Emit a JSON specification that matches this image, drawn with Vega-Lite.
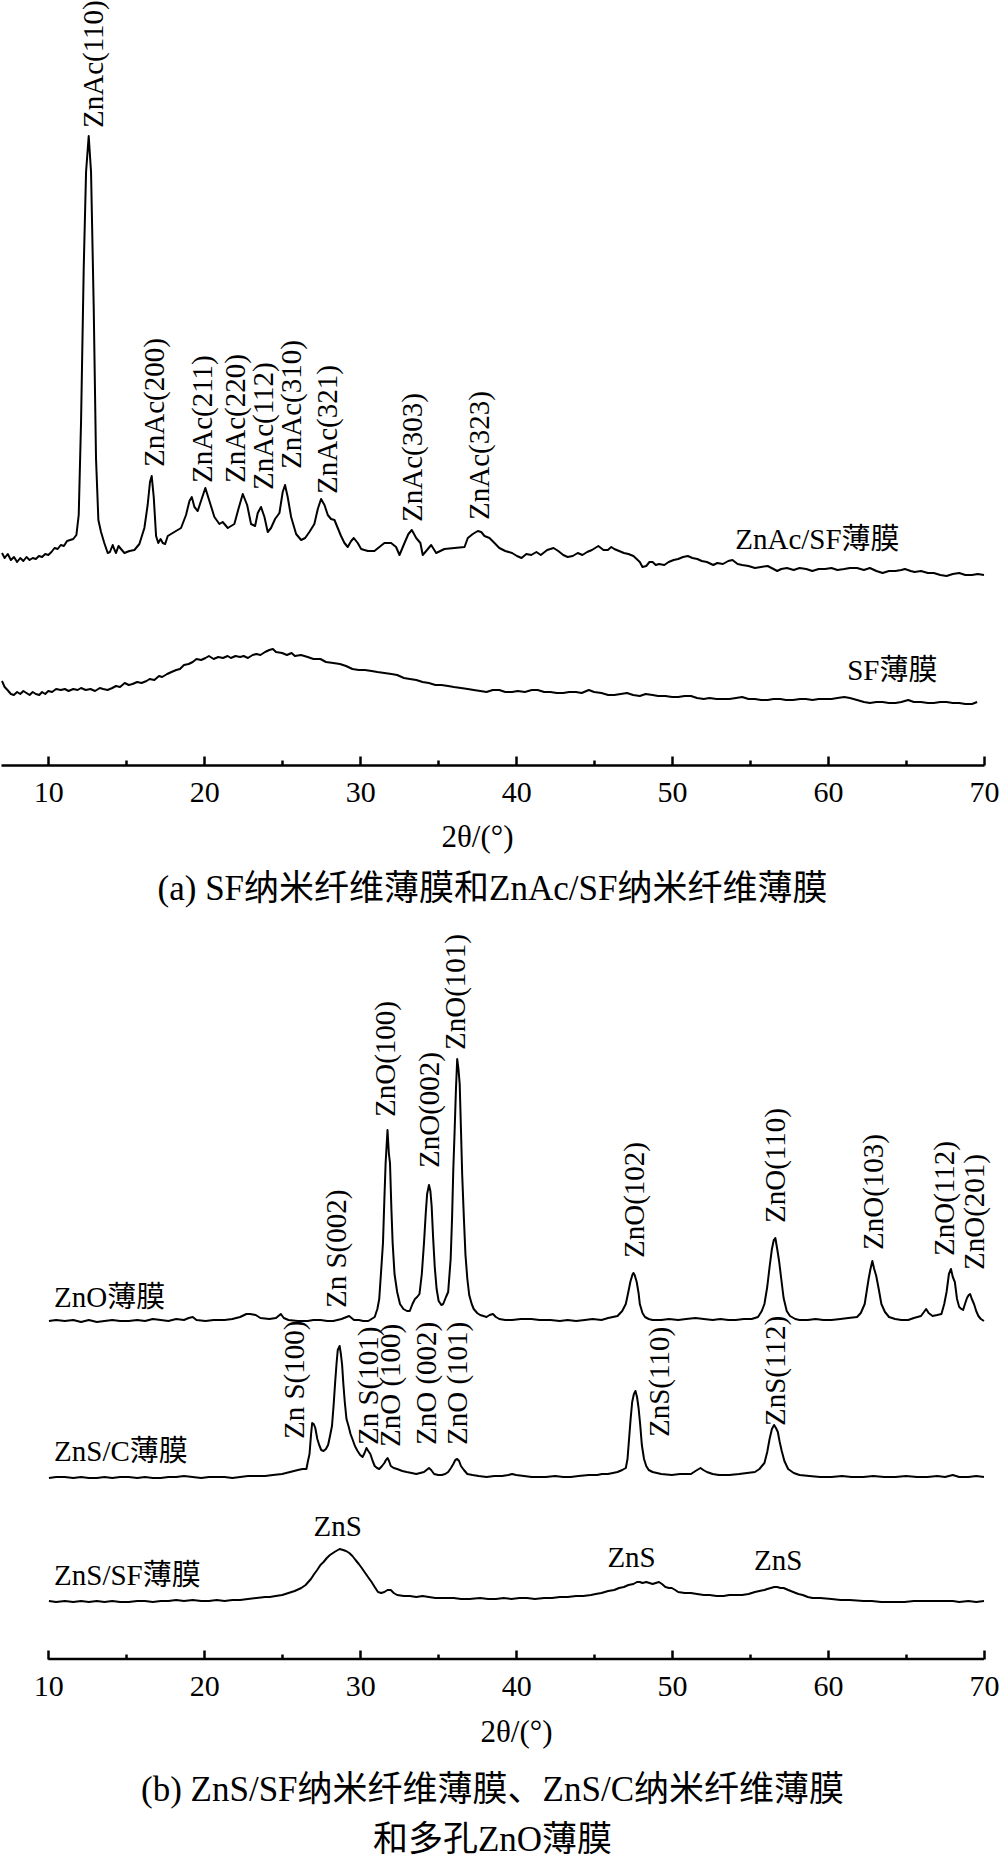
{
  "$schema": "https://vega.github.io/schema/vega-lite/v6.json",
  "padding": 0,
  "background": "white",
  "bounds": "flush",
  "spacing": 150,
  "config": {
    "view": {"stroke": null},
    "font": "Liberation Serif, Noto Sans CJK SC",
    "text": {"color": "black", "font": "Liberation Serif, Noto Sans CJK SC"}
  },
  "datasets": {
    "znac_sf": [
      {"theta":7.03,"intensity":212},{"theta":7.2,"intensity":207},{"theta":7.4,"intensity":211},{"theta":7.6,"intensity":205},{"theta":7.8,"intensity":208},{"theta":8.0,"intensity":203},{"theta":8.2,"intensity":207},{"theta":8.4,"intensity":204},{"theta":8.6,"intensity":208},{"theta":8.8,"intensity":205},{"theta":9.0,"intensity":207},{"theta":9.2,"intensity":206},{"theta":9.4,"intensity":209},{"theta":9.6,"intensity":208},{"theta":9.8,"intensity":211},{"theta":10.0,"intensity":210},{"theta":10.2,"intensity":213},{"theta":10.4,"intensity":217},{"theta":10.6,"intensity":216},{"theta":10.8,"intensity":220},{"theta":11.0,"intensity":219},{"theta":11.2,"intensity":224},{"theta":11.4,"intensity":225},{"theta":11.6,"intensity":226},{"theta":11.8,"intensity":230},{"theta":11.95,"intensity":250},{"theta":12.1,"intensity":344},{"theta":12.27,"intensity":497},{"theta":12.42,"intensity":593},{"theta":12.59,"intensity":629},{"theta":12.74,"intensity":593},{"theta":12.91,"intensity":459},{"theta":13.06,"intensity":306},{"theta":13.21,"intensity":245},{"theta":13.38,"intensity":233},{"theta":13.59,"intensity":222},{"theta":13.81,"intensity":212},{"theta":13.95,"intensity":213},{"theta":14.13,"intensity":220},{"theta":14.25,"intensity":215},{"theta":14.34,"intensity":212},{"theta":14.5,"intensity":219},{"theta":14.66,"intensity":216},{"theta":14.88,"intensity":212},{"theta":15.2,"intensity":214},{"theta":15.52,"intensity":215},{"theta":15.84,"intensity":221},{"theta":16.16,"intensity":237},{"theta":16.37,"intensity":260},{"theta":16.52,"intensity":283},{"theta":16.63,"intensity":289},{"theta":16.76,"intensity":268},{"theta":16.91,"intensity":229},{"theta":17.05,"intensity":222},{"theta":17.2,"intensity":226},{"theta":17.34,"intensity":222},{"theta":17.49,"intensity":221},{"theta":17.66,"intensity":229},{"theta":18.08,"intensity":233},{"theta":18.51,"intensity":237},{"theta":18.83,"intensity":250},{"theta":19.05,"intensity":264},{"theta":19.2,"intensity":268},{"theta":19.37,"intensity":258},{"theta":19.58,"intensity":254},{"theta":19.79,"intensity":264},{"theta":20.07,"intensity":277},{"theta":20.33,"intensity":264},{"theta":20.65,"intensity":248},{"theta":20.97,"intensity":241},{"theta":21.18,"intensity":243},{"theta":21.51,"intensity":237},{"theta":21.93,"intensity":241},{"theta":22.19,"intensity":256},{"theta":22.47,"intensity":271},{"theta":22.75,"intensity":260},{"theta":23.0,"intensity":241},{"theta":23.26,"intensity":239},{"theta":23.43,"intensity":252},{"theta":23.64,"intensity":258},{"theta":23.86,"intensity":248},{"theta":24.07,"intensity":233},{"theta":24.28,"intensity":237},{"theta":24.54,"intensity":246},{"theta":24.82,"intensity":252},{"theta":25.03,"intensity":273},{"theta":25.18,"intensity":280},{"theta":25.35,"intensity":268},{"theta":25.57,"intensity":248},{"theta":25.89,"intensity":231},{"theta":26.21,"intensity":225},{"theta":26.47,"intensity":227},{"theta":26.74,"intensity":233},{"theta":27.06,"intensity":241},{"theta":27.28,"intensity":256},{"theta":27.49,"intensity":266},{"theta":27.71,"intensity":260},{"theta":27.92,"intensity":250},{"theta":28.13,"intensity":246},{"theta":28.35,"intensity":245},{"theta":28.56,"intensity":237},{"theta":28.77,"intensity":229},{"theta":28.99,"intensity":222},{"theta":29.2,"intensity":218},{"theta":29.42,"intensity":224},{"theta":29.59,"intensity":227},{"theta":29.84,"intensity":222},{"theta":30.06,"intensity":216},{"theta":30.49,"intensity":214},{"theta":30.91,"intensity":214},{"theta":31.23,"intensity":218},{"theta":31.55,"intensity":222},{"theta":31.98,"intensity":222},{"theta":32.3,"intensity":218},{"theta":32.52,"intensity":210},{"theta":32.84,"intensity":222},{"theta":33.09,"intensity":231},{"theta":33.31,"intensity":235},{"theta":33.59,"intensity":227},{"theta":33.86,"intensity":222},{"theta":34.01,"intensity":210},{"theta":34.23,"intensity":214},{"theta":34.55,"intensity":220},{"theta":34.87,"intensity":212},{"theta":35.4,"intensity":216},{"theta":36.04,"intensity":217},{"theta":36.69,"intensity":218},{"theta":36.9,"intensity":227},{"theta":37.22,"intensity":231},{"theta":37.54,"intensity":234},{"theta":37.76,"intensity":233},{"theta":37.97,"intensity":229},{"theta":38.29,"intensity":227},{"theta":38.61,"intensity":222},{"theta":38.92,"intensity":217},{"theta":39.3,"intensity":214},{"theta":39.74,"intensity":212},{"theta":40.05,"intensity":209},{"theta":40.35,"intensity":207},{"theta":40.65,"intensity":211},{"theta":40.97,"intensity":210},{"theta":41.3,"intensity":213},{"theta":41.58,"intensity":210},{"theta":41.99,"intensity":215},{"theta":42.4,"intensity":217},{"theta":42.7,"intensity":214},{"theta":43.02,"intensity":210},{"theta":43.3,"intensity":208},{"theta":43.63,"intensity":209},{"theta":43.95,"intensity":212},{"theta":44.25,"intensity":210},{"theta":44.55,"intensity":213},{"theta":44.86,"intensity":215},{"theta":45.27,"intensity":219},{"theta":45.6,"intensity":215},{"theta":45.88,"intensity":215},{"theta":46.1,"intensity":218},{"theta":46.29,"intensity":216},{"theta":46.6,"intensity":214},{"theta":46.91,"intensity":212},{"theta":47.2,"intensity":211},{"theta":47.52,"intensity":209},{"theta":47.93,"intensity":203},{"theta":48.1,"intensity":198},{"theta":48.34,"intensity":199},{"theta":48.55,"intensity":203},{"theta":48.75,"intensity":203},{"theta":48.95,"intensity":200},{"theta":49.16,"intensity":201},{"theta":49.5,"intensity":200},{"theta":49.78,"intensity":203},{"theta":50.1,"intensity":205},{"theta":50.39,"intensity":206},{"theta":50.7,"intensity":208},{"theta":51.01,"intensity":209},{"theta":51.3,"intensity":207},{"theta":51.62,"intensity":206},{"theta":51.9,"intensity":204},{"theta":52.23,"intensity":203},{"theta":52.64,"intensity":200},{"theta":52.9,"intensity":202},{"theta":53.26,"intensity":201},{"theta":53.6,"intensity":204},{"theta":53.87,"intensity":205},{"theta":54.2,"intensity":201},{"theta":54.49,"intensity":200},{"theta":54.9,"intensity":199},{"theta":55.31,"intensity":197},{"theta":55.7,"intensity":198},{"theta":56.13,"intensity":199},{"theta":56.5,"intensity":196},{"theta":56.74,"intensity":194},{"theta":57.0,"intensity":196},{"theta":57.36,"intensity":197},{"theta":57.8,"intensity":195},{"theta":58.17,"intensity":197},{"theta":58.6,"intensity":196},{"theta":58.99,"intensity":194},{"theta":59.4,"intensity":196},{"theta":59.81,"intensity":196},{"theta":60.22,"intensity":197},{"theta":60.6,"intensity":195},{"theta":61.04,"intensity":196},{"theta":61.4,"intensity":197},{"theta":61.86,"intensity":197},{"theta":62.3,"intensity":195},{"theta":62.68,"intensity":197},{"theta":63.1,"intensity":194},{"theta":63.5,"intensity":192},{"theta":63.9,"intensity":194},{"theta":64.32,"intensity":194},{"theta":64.7,"intensity":195},{"theta":64.93,"intensity":196},{"theta":65.3,"intensity":194},{"theta":65.55,"intensity":193},{"theta":65.96,"intensity":194},{"theta":66.4,"intensity":192},{"theta":66.78,"intensity":192},{"theta":67.2,"intensity":190},{"theta":67.6,"intensity":189},{"theta":68.0,"intensity":191},{"theta":68.41,"intensity":192},{"theta":68.8,"intensity":190},{"theta":69.23,"intensity":190},{"theta":69.6,"intensity":191},{"theta":70.0,"intensity":190}
    ],
    "sf": [
      {"theta":7.03,"intensity":84},{"theta":7.2,"intensity":78},{"theta":7.38,"intensity":75},{"theta":7.6,"intensity":71},{"theta":7.79,"intensity":70},{"theta":8.0,"intensity":73},{"theta":8.2,"intensity":71},{"theta":8.4,"intensity":74},{"theta":8.6,"intensity":72},{"theta":8.8,"intensity":70},{"theta":9.0,"intensity":73},{"theta":9.2,"intensity":71},{"theta":9.42,"intensity":70},{"theta":9.6,"intensity":73},{"theta":9.8,"intensity":71},{"theta":10.0,"intensity":74},{"theta":10.24,"intensity":73},{"theta":10.5,"intensity":76},{"theta":10.8,"intensity":75},{"theta":11.06,"intensity":76},{"theta":11.3,"intensity":74},{"theta":11.6,"intensity":76},{"theta":11.88,"intensity":75},{"theta":12.1,"intensity":77},{"theta":12.4,"intensity":75},{"theta":12.7,"intensity":76},{"theta":13.0,"intensity":74},{"theta":13.3,"intensity":77},{"theta":13.52,"intensity":76},{"theta":13.8,"intensity":75},{"theta":14.1,"intensity":77},{"theta":14.34,"intensity":79},{"theta":14.6,"intensity":78},{"theta":14.9,"intensity":82},{"theta":15.16,"intensity":80},{"theta":15.4,"intensity":81},{"theta":15.7,"intensity":83},{"theta":15.98,"intensity":82},{"theta":16.3,"intensity":84},{"theta":16.5,"intensity":86},{"theta":16.8,"intensity":85},{"theta":17.1,"intensity":89},{"theta":17.3,"intensity":88},{"theta":17.62,"intensity":91},{"theta":17.9,"intensity":93},{"theta":18.2,"intensity":95},{"theta":18.44,"intensity":96},{"theta":18.7,"intensity":100},{"theta":19.0,"intensity":101},{"theta":19.26,"intensity":103},{"theta":19.5,"intensity":106},{"theta":19.8,"intensity":105},{"theta":20.08,"intensity":107},{"theta":20.3,"intensity":109},{"theta":20.6,"intensity":106},{"theta":20.9,"intensity":108},{"theta":21.2,"intensity":107},{"theta":21.5,"intensity":109},{"theta":21.71,"intensity":107},{"theta":22.0,"intensity":109},{"theta":22.3,"intensity":108},{"theta":22.53,"intensity":109},{"theta":22.8,"intensity":107},{"theta":23.1,"intensity":110},{"theta":23.35,"intensity":111},{"theta":23.6,"intensity":110},{"theta":23.9,"intensity":113},{"theta":24.17,"intensity":115},{"theta":24.4,"intensity":116},{"theta":24.6,"intensity":113},{"theta":24.99,"intensity":112},{"theta":25.3,"intensity":110},{"theta":25.6,"intensity":112},{"theta":25.81,"intensity":109},{"theta":26.2,"intensity":110},{"theta":26.63,"intensity":108},{"theta":27.0,"intensity":106},{"theta":27.45,"intensity":106},{"theta":27.8,"intensity":103},{"theta":28.27,"intensity":102},{"theta":28.7,"intensity":101},{"theta":29.09,"intensity":99},{"theta":29.5,"intensity":96},{"theta":29.91,"intensity":95},{"theta":30.3,"intensity":95},{"theta":30.73,"intensity":94},{"theta":31.1,"intensity":93},{"theta":31.55,"intensity":92},{"theta":32.0,"intensity":91},{"theta":32.37,"intensity":90},{"theta":32.8,"intensity":87},{"theta":33.18,"intensity":86},{"theta":33.6,"intensity":85},{"theta":34.0,"intensity":83},{"theta":34.4,"intensity":82},{"theta":34.82,"intensity":80},{"theta":35.2,"intensity":80},{"theta":35.64,"intensity":79},{"theta":36.0,"intensity":78},{"theta":36.46,"intensity":77},{"theta":36.9,"intensity":76},{"theta":37.28,"intensity":75},{"theta":37.7,"intensity":74},{"theta":38.1,"intensity":73},{"theta":38.5,"intensity":75},{"theta":38.92,"intensity":75},{"theta":39.3,"intensity":73},{"theta":39.74,"intensity":73},{"theta":40.1,"intensity":74},{"theta":40.56,"intensity":73},{"theta":41.0,"intensity":75},{"theta":41.38,"intensity":75},{"theta":41.8,"intensity":73},{"theta":42.2,"intensity":73},{"theta":42.6,"intensity":72},{"theta":43.02,"intensity":72},{"theta":43.4,"intensity":73},{"theta":43.84,"intensity":73},{"theta":44.2,"intensity":72},{"theta":44.66,"intensity":75},{"theta":45.0,"intensity":73},{"theta":45.47,"intensity":72},{"theta":45.9,"intensity":70},{"theta":46.29,"intensity":70},{"theta":46.7,"intensity":71},{"theta":47.11,"intensity":72},{"theta":47.5,"intensity":70},{"theta":47.93,"intensity":69},{"theta":48.3,"intensity":71},{"theta":48.75,"intensity":70},{"theta":49.1,"intensity":69},{"theta":49.57,"intensity":69},{"theta":50.0,"intensity":68},{"theta":50.39,"intensity":68},{"theta":50.8,"intensity":69},{"theta":51.21,"intensity":69},{"theta":51.6,"intensity":67},{"theta":52.03,"intensity":66},{"theta":52.4,"intensity":67},{"theta":52.85,"intensity":66},{"theta":53.3,"intensity":66},{"theta":53.67,"intensity":66},{"theta":54.1,"intensity":67},{"theta":54.49,"intensity":68},{"theta":54.9,"intensity":66},{"theta":55.31,"intensity":66},{"theta":55.7,"intensity":65},{"theta":56.13,"intensity":65},{"theta":56.5,"intensity":66},{"theta":56.94,"intensity":66},{"theta":57.3,"intensity":65},{"theta":57.76,"intensity":65},{"theta":58.2,"intensity":66},{"theta":58.58,"intensity":66},{"theta":59.0,"intensity":65},{"theta":59.4,"intensity":66},{"theta":59.8,"intensity":66},{"theta":60.22,"intensity":66},{"theta":60.6,"intensity":67},{"theta":61.04,"intensity":68},{"theta":61.4,"intensity":67},{"theta":61.86,"intensity":65},{"theta":62.3,"intensity":63},{"theta":62.68,"intensity":62},{"theta":63.1,"intensity":63},{"theta":63.5,"intensity":63},{"theta":63.9,"intensity":62},{"theta":64.32,"intensity":62},{"theta":64.7,"intensity":63},{"theta":65.14,"intensity":65},{"theta":65.5,"intensity":63},{"theta":65.96,"intensity":63},{"theta":66.4,"intensity":62},{"theta":66.78,"intensity":62},{"theta":67.2,"intensity":63},{"theta":67.6,"intensity":63},{"theta":68.0,"intensity":62},{"theta":68.41,"intensity":62},{"theta":68.8,"intensity":61},{"theta":69.23,"intensity":61},{"theta":69.56,"intensity":63}
    ],
    "a_peaks": [
      {"label":"ZnAc(110)","theta":12.91,"intensity":637},
      {"label":"ZnAc(200)","theta":16.84,"intensity":298},
      {"label":"ZnAc(211)","theta":19.92,"intensity":282},
      {"label":"ZnAc(220)","theta":22.05,"intensity":282},
      {"label":"ZnAc(112)","theta":23.84,"intensity":275},
      {"label":"ZnAc(310)","theta":25.62,"intensity":296},
      {"label":"ZnAc(321)","theta":27.96,"intensity":271},
      {"label":"ZnAc(303)","theta":33.4,"intensity":243},
      {"label":"ZnAc(323)","theta":37.69,"intensity":245}
    ],
    "a_names": [
      {"label":"ZnAc/SF薄膜","theta":54.05,"intensity":225},
      {"label":"SF薄膜","theta":61.23,"intensity":94}
    ],
    "zno": [
      {"theta":10.04,"intensity":338},{"theta":10.5,"intensity":339},{"theta":11.06,"intensity":338},{"theta":11.6,"intensity":339},{"theta":12.1,"intensity":337},{"theta":12.6,"intensity":339},{"theta":13.11,"intensity":337},{"theta":13.6,"intensity":338},{"theta":14.1,"intensity":339},{"theta":14.6,"intensity":338},{"theta":15.16,"intensity":338},{"theta":15.7,"intensity":339},{"theta":16.2,"intensity":338},{"theta":16.7,"intensity":340},{"theta":17.21,"intensity":339},{"theta":17.7,"intensity":338},{"theta":18.2,"intensity":340},{"theta":18.7,"intensity":339},{"theta":19.0,"intensity":341},{"theta":19.26,"intensity":342},{"theta":19.5,"intensity":339},{"theta":20.08,"intensity":338},{"theta":20.6,"intensity":339},{"theta":21.3,"intensity":339},{"theta":21.8,"intensity":340},{"theta":22.3,"intensity":342},{"theta":22.7,"intensity":345},{"theta":22.94,"intensity":345},{"theta":23.3,"intensity":344},{"theta":23.6,"intensity":341},{"theta":24.17,"intensity":340},{"theta":24.6,"intensity":341},{"theta":24.91,"intensity":345},{"theta":25.1,"intensity":341},{"theta":25.4,"intensity":339},{"theta":26.0,"intensity":338},{"theta":26.63,"intensity":338},{"theta":27.0,"intensity":339},{"theta":27.45,"intensity":339},{"theta":27.9,"intensity":338},{"theta":28.27,"intensity":338},{"theta":28.8,"intensity":340},{"theta":29.29,"intensity":343},{"theta":29.6,"intensity":339},{"theta":29.91,"intensity":339},{"theta":30.2,"intensity":338},{"theta":30.52,"intensity":338},{"theta":30.93,"intensity":342},{"theta":31.1,"intensity":350},{"theta":31.22,"intensity":360},{"theta":31.35,"intensity":390},{"theta":31.46,"intensity":416},{"theta":31.55,"intensity":460},{"theta":31.63,"intensity":496},{"theta":31.75,"intensity":529},{"theta":31.84,"intensity":505},{"theta":31.91,"intensity":496},{"theta":32.0,"intensity":450},{"theta":32.08,"intensity":416},{"theta":32.2,"intensity":385},{"theta":32.37,"intensity":367},{"theta":32.55,"intensity":355},{"theta":32.77,"intensity":350},{"theta":33.0,"intensity":348},{"theta":33.18,"intensity":348},{"theta":33.35,"intensity":355},{"theta":33.51,"intensity":360},{"theta":33.65,"intensity":362},{"theta":33.8,"intensity":365},{"theta":33.95,"intensity":385},{"theta":34.09,"intensity":416},{"theta":34.2,"intensity":445},{"theta":34.29,"intensity":465},{"theta":34.41,"intensity":474},{"theta":34.5,"intensity":468},{"theta":34.58,"intensity":453},{"theta":34.68,"intensity":420},{"theta":34.78,"intensity":392},{"theta":34.9,"intensity":370},{"theta":35.03,"intensity":358},{"theta":35.2,"intensity":354},{"theta":35.32,"intensity":355},{"theta":35.5,"intensity":362},{"theta":35.64,"intensity":367},{"theta":35.8,"intensity":400},{"theta":35.89,"intensity":441},{"theta":35.97,"intensity":490},{"theta":36.05,"intensity":526},{"theta":36.14,"intensity":570},{"theta":36.22,"intensity":600},{"theta":36.3,"intensity":590},{"theta":36.38,"intensity":575},{"theta":36.46,"intensity":530},{"theta":36.54,"intensity":484},{"theta":36.65,"intensity":440},{"theta":36.75,"intensity":404},{"theta":36.87,"intensity":380},{"theta":36.99,"intensity":364},{"theta":37.15,"intensity":355},{"theta":37.28,"intensity":350},{"theta":37.5,"intensity":346},{"theta":37.69,"intensity":344},{"theta":37.9,"intensity":343},{"theta":38.1,"intensity":342},{"theta":38.3,"intensity":344},{"theta":38.51,"intensity":345},{"theta":38.7,"intensity":342},{"theta":38.92,"intensity":340},{"theta":39.3,"intensity":339},{"theta":39.74,"intensity":339},{"theta":40.3,"intensity":340},{"theta":40.97,"intensity":340},{"theta":41.5,"intensity":339},{"theta":42.2,"intensity":339},{"theta":42.8,"intensity":338},{"theta":43.3,"intensity":339},{"theta":43.84,"intensity":338},{"theta":44.4,"intensity":339},{"theta":44.9,"intensity":340},{"theta":45.47,"intensity":339},{"theta":45.9,"intensity":341},{"theta":46.2,"intensity":342},{"theta":46.5,"intensity":343},{"theta":46.8,"intensity":348},{"theta":47.03,"intensity":355},{"theta":47.18,"intensity":366},{"theta":47.32,"intensity":377},{"theta":47.45,"intensity":384},{"theta":47.52,"intensity":386},{"theta":47.6,"intensity":384},{"theta":47.73,"intensity":377},{"theta":47.85,"intensity":366},{"theta":47.93,"intensity":355},{"theta":48.1,"intensity":346},{"theta":48.26,"intensity":342},{"theta":48.5,"intensity":340},{"theta":48.75,"intensity":339},{"theta":49.3,"intensity":339},{"theta":49.8,"intensity":340},{"theta":50.39,"intensity":339},{"theta":50.9,"intensity":340},{"theta":51.5,"intensity":341},{"theta":52.03,"intensity":340},{"theta":52.6,"intensity":339},{"theta":53.1,"intensity":340},{"theta":53.6,"intensity":339},{"theta":54.08,"intensity":339},{"theta":54.6,"intensity":340},{"theta":55.1,"intensity":340},{"theta":55.51,"intensity":342},{"theta":55.75,"intensity":348},{"theta":55.92,"intensity":355},{"theta":56.1,"intensity":372},{"theta":56.25,"intensity":392},{"theta":56.4,"intensity":410},{"theta":56.52,"intensity":419},{"theta":56.62,"intensity":421},{"theta":56.74,"intensity":410},{"theta":56.86,"intensity":398},{"theta":57.0,"intensity":380},{"theta":57.15,"intensity":361},{"theta":57.35,"intensity":348},{"theta":57.56,"intensity":343},{"theta":57.9,"intensity":340},{"theta":58.17,"intensity":339},{"theta":58.7,"intensity":339},{"theta":59.2,"intensity":340},{"theta":59.7,"intensity":339},{"theta":60.22,"intensity":339},{"theta":60.8,"intensity":340},{"theta":61.3,"intensity":341},{"theta":61.86,"intensity":342},{"theta":62.1,"intensity":346},{"theta":62.35,"intensity":355},{"theta":62.5,"intensity":370},{"theta":62.6,"intensity":380},{"theta":62.72,"intensity":390},{"theta":62.84,"intensity":398},{"theta":62.96,"intensity":390},{"theta":63.09,"intensity":383},{"theta":63.25,"intensity":370},{"theta":63.42,"intensity":355},{"theta":63.65,"intensity":347},{"theta":63.91,"intensity":342},{"theta":64.3,"intensity":340},{"theta":64.7,"intensity":339},{"theta":65.14,"intensity":339},{"theta":65.5,"intensity":341},{"theta":65.96,"intensity":343},{"theta":66.15,"intensity":347},{"theta":66.29,"intensity":350},{"theta":66.45,"intensity":346},{"theta":66.7,"intensity":343},{"theta":67.0,"intensity":344},{"theta":67.27,"intensity":345},{"theta":67.45,"intensity":355},{"theta":67.6,"intensity":367},{"theta":67.75,"intensity":385},{"theta":67.88,"intensity":390},{"theta":68.0,"intensity":382},{"theta":68.13,"intensity":377},{"theta":68.27,"intensity":360},{"theta":68.41,"intensity":352},{"theta":68.55,"intensity":350},{"theta":68.66,"intensity":349},{"theta":68.8,"intensity":356},{"theta":68.91,"intensity":361},{"theta":69.02,"intensity":364},{"theta":69.11,"intensity":365},{"theta":69.22,"intensity":360},{"theta":69.36,"intensity":355},{"theta":69.5,"intensity":348},{"theta":69.64,"intensity":343},{"theta":69.8,"intensity":340},{"theta":70.0,"intensity":338}
    ],
    "zns_c": [
      {"theta":10.04,"intensity":181},{"theta":10.5,"intensity":182},{"theta":11.06,"intensity":182},{"theta":11.6,"intensity":181},{"theta":12.1,"intensity":182},{"theta":12.6,"intensity":181},{"theta":13.11,"intensity":181},{"theta":13.6,"intensity":182},{"theta":14.1,"intensity":181},{"theta":14.6,"intensity":182},{"theta":15.16,"intensity":182},{"theta":15.7,"intensity":181},{"theta":16.2,"intensity":182},{"theta":16.7,"intensity":181},{"theta":17.21,"intensity":181},{"theta":17.7,"intensity":182},{"theta":18.2,"intensity":182},{"theta":18.7,"intensity":183},{"theta":19.26,"intensity":182},{"theta":19.8,"intensity":181},{"theta":20.3,"intensity":182},{"theta":20.8,"intensity":182},{"theta":21.3,"intensity":182},{"theta":21.8,"intensity":181},{"theta":22.3,"intensity":182},{"theta":22.8,"intensity":183},{"theta":23.35,"intensity":183},{"theta":23.9,"intensity":183},{"theta":24.4,"intensity":184},{"theta":24.99,"intensity":185},{"theta":25.5,"intensity":187},{"theta":26.01,"intensity":189},{"theta":26.3,"intensity":190},{"theta":26.55,"intensity":190},{"theta":26.65,"intensity":198},{"theta":26.75,"intensity":205},{"theta":26.85,"intensity":225},{"theta":26.92,"intensity":236},{"theta":27.02,"intensity":235},{"theta":27.12,"intensity":231},{"theta":27.25,"intensity":220},{"theta":27.37,"intensity":214},{"theta":27.5,"intensity":209},{"theta":27.65,"intensity":208},{"theta":27.8,"intensity":210},{"theta":27.94,"intensity":214},{"theta":28.05,"intensity":222},{"theta":28.19,"intensity":233},{"theta":28.3,"intensity":255},{"theta":28.39,"intensity":276},{"theta":28.48,"intensity":295},{"theta":28.56,"intensity":309},{"theta":28.68,"intensity":313},{"theta":28.76,"intensity":305},{"theta":28.84,"intensity":294},{"theta":28.92,"intensity":275},{"theta":29.01,"intensity":257},{"theta":29.12,"intensity":240},{"theta":29.25,"intensity":233},{"theta":29.38,"intensity":225},{"theta":29.5,"intensity":220},{"theta":29.66,"intensity":213},{"theta":29.83,"intensity":208},{"theta":30.0,"intensity":204},{"theta":30.15,"intensity":202},{"theta":30.28,"intensity":206},{"theta":30.4,"intensity":211},{"theta":30.52,"intensity":208},{"theta":30.65,"intensity":205},{"theta":30.8,"intensity":198},{"theta":30.93,"intensity":193},{"theta":31.08,"intensity":191},{"theta":31.22,"intensity":190},{"theta":31.4,"intensity":193},{"theta":31.55,"intensity":196},{"theta":31.65,"intensity":199},{"theta":31.75,"intensity":201},{"theta":31.85,"intensity":198},{"theta":31.96,"intensity":193},{"theta":32.15,"intensity":191},{"theta":32.37,"intensity":190},{"theta":32.7,"intensity":188},{"theta":32.98,"intensity":187},{"theta":33.3,"intensity":186},{"theta":33.59,"intensity":185},{"theta":33.85,"intensity":186},{"theta":34.09,"intensity":187},{"theta":34.25,"intensity":189},{"theta":34.41,"intensity":191},{"theta":34.55,"intensity":189},{"theta":34.74,"intensity":185},{"theta":35.0,"intensity":184},{"theta":35.23,"intensity":184},{"theta":35.45,"intensity":185},{"theta":35.64,"intensity":187},{"theta":35.82,"intensity":191},{"theta":35.97,"intensity":195},{"theta":36.1,"intensity":199},{"theta":36.22,"intensity":200},{"theta":36.34,"intensity":198},{"theta":36.46,"intensity":193},{"theta":36.65,"intensity":189},{"theta":36.87,"intensity":185},{"theta":37.2,"intensity":184},{"theta":37.6,"intensity":183},{"theta":38.1,"intensity":182},{"theta":38.6,"intensity":183},{"theta":39.1,"intensity":183},{"theta":39.5,"intensity":184},{"theta":39.74,"intensity":185},{"theta":40.0,"intensity":184},{"theta":40.5,"intensity":183},{"theta":41.0,"intensity":182},{"theta":41.38,"intensity":182},{"theta":41.9,"intensity":182},{"theta":42.5,"intensity":183},{"theta":43.02,"intensity":182},{"theta":43.5,"intensity":182},{"theta":44.0,"intensity":183},{"theta":44.66,"intensity":184},{"theta":45.2,"intensity":184},{"theta":45.5,"intensity":185},{"theta":45.88,"intensity":185},{"theta":46.2,"intensity":186},{"theta":46.5,"intensity":187},{"theta":46.8,"intensity":189},{"theta":47.03,"intensity":191},{"theta":47.14,"intensity":200},{"theta":47.24,"intensity":220},{"theta":47.34,"intensity":240},{"theta":47.44,"intensity":257},{"theta":47.55,"intensity":265},{"theta":47.65,"intensity":268},{"theta":47.75,"intensity":262},{"theta":47.85,"intensity":251},{"theta":47.95,"intensity":235},{"theta":48.06,"intensity":214},{"theta":48.2,"intensity":200},{"theta":48.34,"intensity":193},{"theta":48.5,"intensity":189},{"theta":48.75,"intensity":187},{"theta":49.3,"intensity":185},{"theta":49.98,"intensity":184},{"theta":50.5,"intensity":185},{"theta":51.0,"intensity":185},{"theta":51.21,"intensity":185},{"theta":51.5,"intensity":188},{"theta":51.82,"intensity":191},{"theta":52.0,"intensity":189},{"theta":52.23,"intensity":187},{"theta":52.6,"intensity":185},{"theta":53.0,"intensity":184},{"theta":53.67,"intensity":184},{"theta":54.3,"intensity":185},{"theta":54.8,"intensity":186},{"theta":55.31,"intensity":187},{"theta":55.6,"intensity":190},{"theta":55.92,"intensity":196},{"theta":56.1,"intensity":207},{"theta":56.25,"intensity":220},{"theta":56.4,"intensity":230},{"theta":56.54,"intensity":234},{"theta":56.66,"intensity":231},{"theta":56.78,"intensity":227},{"theta":56.9,"intensity":217},{"theta":57.03,"intensity":208},{"theta":57.2,"intensity":198},{"theta":57.44,"intensity":190},{"theta":57.8,"intensity":186},{"theta":58.17,"intensity":184},{"theta":58.8,"intensity":183},{"theta":59.5,"intensity":182},{"theta":60.22,"intensity":182},{"theta":60.9,"intensity":183},{"theta":61.5,"intensity":182},{"theta":62.27,"intensity":182},{"theta":62.9,"intensity":183},{"theta":63.6,"intensity":182},{"theta":64.32,"intensity":182},{"theta":65.0,"intensity":183},{"theta":65.7,"intensity":182},{"theta":66.37,"intensity":182},{"theta":67.0,"intensity":183},{"theta":67.5,"intensity":182},{"theta":68.0,"intensity":184},{"theta":68.41,"intensity":182},{"theta":69.0,"intensity":182},{"theta":69.5,"intensity":183},{"theta":70.0,"intensity":182}
    ],
    "zns_sf": [
      {"theta":10.04,"intensity":58},{"theta":10.5,"intensity":57},{"theta":11.06,"intensity":58},{"theta":11.6,"intensity":57},{"theta":12.1,"intensity":58},{"theta":12.6,"intensity":57},{"theta":13.11,"intensity":58},{"theta":13.6,"intensity":57},{"theta":14.1,"intensity":58},{"theta":14.6,"intensity":57},{"theta":15.16,"intensity":57},{"theta":15.7,"intensity":58},{"theta":16.2,"intensity":58},{"theta":16.7,"intensity":57},{"theta":17.21,"intensity":58},{"theta":17.7,"intensity":58},{"theta":18.2,"intensity":59},{"theta":18.7,"intensity":58},{"theta":19.26,"intensity":59},{"theta":19.8,"intensity":58},{"theta":20.3,"intensity":58},{"theta":20.8,"intensity":59},{"theta":21.3,"intensity":58},{"theta":21.8,"intensity":59},{"theta":22.3,"intensity":59},{"theta":22.8,"intensity":60},{"theta":23.35,"intensity":61},{"theta":23.9,"intensity":62},{"theta":24.2,"intensity":62},{"theta":24.58,"intensity":63},{"theta":25.0,"intensity":64},{"theta":25.4,"intensity":66},{"theta":25.8,"intensity":68},{"theta":26.22,"intensity":71},{"theta":26.5,"intensity":74},{"theta":26.84,"intensity":80},{"theta":27.05,"intensity":85},{"theta":27.24,"intensity":89},{"theta":27.45,"intensity":94},{"theta":27.65,"intensity":97},{"theta":27.86,"intensity":101},{"theta":28.06,"intensity":104},{"theta":28.35,"intensity":107},{"theta":28.68,"intensity":110},{"theta":28.9,"intensity":109},{"theta":29.09,"intensity":108},{"theta":29.3,"intensity":106},{"theta":29.5,"intensity":103},{"theta":29.7,"intensity":99},{"theta":29.91,"intensity":95},{"theta":30.1,"intensity":91},{"theta":30.32,"intensity":86},{"theta":30.5,"intensity":82},{"theta":30.73,"intensity":77},{"theta":30.93,"intensity":72},{"theta":31.14,"intensity":67},{"theta":31.35,"intensity":66},{"theta":31.55,"intensity":67},{"theta":31.75,"intensity":69},{"theta":31.96,"intensity":69},{"theta":32.15,"intensity":66},{"theta":32.37,"intensity":64},{"theta":32.8,"intensity":63},{"theta":33.18,"intensity":63},{"theta":33.6,"intensity":62},{"theta":34.0,"intensity":63},{"theta":34.4,"intensity":62},{"theta":34.82,"intensity":61},{"theta":35.2,"intensity":61},{"theta":35.64,"intensity":61},{"theta":36.0,"intensity":61},{"theta":36.46,"intensity":60},{"theta":37.0,"intensity":60},{"theta":37.69,"intensity":61},{"theta":38.2,"intensity":60},{"theta":38.7,"intensity":60},{"theta":39.2,"intensity":61},{"theta":39.7,"intensity":60},{"theta":40.2,"intensity":61},{"theta":40.7,"intensity":61},{"theta":41.2,"intensity":60},{"theta":41.79,"intensity":61},{"theta":42.3,"intensity":61},{"theta":42.8,"intensity":62},{"theta":43.3,"intensity":62},{"theta":43.84,"intensity":63},{"theta":44.3,"intensity":63},{"theta":44.8,"intensity":64},{"theta":45.1,"intensity":65},{"theta":45.47,"intensity":66},{"theta":45.9,"intensity":68},{"theta":46.29,"intensity":69},{"theta":46.6,"intensity":71},{"theta":46.91,"intensity":72},{"theta":47.2,"intensity":74},{"theta":47.52,"intensity":75},{"theta":47.75,"intensity":77},{"theta":47.93,"intensity":77},{"theta":48.1,"intensity":76},{"theta":48.34,"intensity":77},{"theta":48.55,"intensity":76},{"theta":48.75,"intensity":75},{"theta":48.95,"intensity":76},{"theta":49.16,"intensity":77},{"theta":49.35,"intensity":75},{"theta":49.57,"intensity":72},{"theta":49.8,"intensity":71},{"theta":49.98,"intensity":71},{"theta":50.2,"intensity":69},{"theta":50.39,"intensity":67},{"theta":50.8,"intensity":66},{"theta":51.21,"intensity":66},{"theta":51.6,"intensity":65},{"theta":52.03,"intensity":64},{"theta":52.4,"intensity":64},{"theta":52.85,"intensity":63},{"theta":53.3,"intensity":63},{"theta":53.67,"intensity":64},{"theta":54.1,"intensity":64},{"theta":54.49,"intensity":64},{"theta":54.9,"intensity":65},{"theta":55.31,"intensity":67},{"theta":55.6,"intensity":68},{"theta":55.92,"intensity":69},{"theta":56.1,"intensity":70},{"theta":56.33,"intensity":71},{"theta":56.55,"intensity":72},{"theta":56.74,"intensity":72},{"theta":56.95,"intensity":71},{"theta":57.15,"intensity":71},{"theta":57.45,"intensity":69},{"theta":57.77,"intensity":67},{"theta":58.1,"intensity":65},{"theta":58.38,"intensity":64},{"theta":58.7,"intensity":62},{"theta":59.0,"intensity":61},{"theta":59.5,"intensity":61},{"theta":60.22,"intensity":60},{"theta":60.8,"intensity":59},{"theta":61.4,"intensity":59},{"theta":62.27,"intensity":58},{"theta":62.8,"intensity":58},{"theta":63.4,"intensity":57},{"theta":64.32,"intensity":57},{"theta":64.9,"intensity":57},{"theta":65.5,"intensity":58},{"theta":66.37,"intensity":58},{"theta":67.0,"intensity":58},{"theta":67.5,"intensity":58},{"theta":68.0,"intensity":58},{"theta":68.41,"intensity":57},{"theta":69.0,"intensity":58},{"theta":69.5,"intensity":57},{"theta":70.0,"intensity":58}
    ],
    "b_axisline": [{"theta":10,"theta_end":70}],
    "b_peaks": [
      {"label":"Zn S(002)","theta":28.52,"intensity":351},
      {"label":"ZnO(100)","theta":31.66,"intensity":542},
      {"label":"ZnO(002)","theta":34.48,"intensity":491},
      {"label":"ZnO(101)","theta":36.15,"intensity":609},
      {"label":"ZnO(102)","theta":47.6,"intensity":401},
      {"label":"ZnO(110)","theta":56.66,"intensity":436},
      {"label":"ZnO(103)","theta":62.97,"intensity":409},
      {"label":"ZnO(112)","theta":67.51,"intensity":403},
      {"label":"ZnO(201)","theta":69.44,"intensity":389},
      {"label":"Zn S(100)","theta":25.8,"intensity":220},
      {"label":"Zn S(101)","theta":30.57,"intensity":214},
      {"label":"ZnO (100)","theta":31.98,"intensity":212},
      {"label":"ZnO (002)","theta":34.3,"intensity":214},
      {"label":"ZnO (101)","theta":36.28,"intensity":214},
      {"label":"ZnS(110)","theta":49.25,"intensity":222},
      {"label":"ZnS(112)","theta":56.66,"intensity":233}
    ],
    "b_names": [
      {"label":"ZnO薄膜","theta":10.37,"intensity":361},
      {"label":"ZnS/C薄膜","theta":10.37,"intensity":207},
      {"label":"ZnS/SF薄膜","theta":10.37,"intensity":83}
    ],
    "b_zns": [
      {"label":"ZnS","theta":28.55,"intensity":132},
      {"label":"ZnS","theta":47.4,"intensity":101},
      {"label":"ZnS","theta":56.8,"intensity":98}
    ]
  },
  "vconcat": [
    {
      "width": 983,
      "height": 765,
      "title": {"text": "(a) SF纳米纤维薄膜和ZnAc/SF纳米纤维薄膜", "orient": "bottom", "anchor": "middle", "fontSize": 35, "fontWeight": "normal", "font": "Liberation Serif, Noto Sans CJK SC", "color": "black", "offset": 20},
      "layer": [
        {
          "data": {"name": "znac_sf"},
          "mark": {"type": "line", "color": "black", "strokeWidth": 2, "strokeJoin": "round"},
          "encoding": {
            "x": {"field": "theta", "type": "quantitative", "scale": {"domain": [6.966, 70], "nice": false, "zero": false},
              "axis": {
                "values": [10,15,20,25,30,35,40,45,50,55,60,65,70],
                "labelExpr": "datum.value % 10 === 0 ? datum.label : ''",
                "tickSize": {"condition": {"test": "datum.value % 10 === 0", "value": -9}, "value": -5},
                "tickWidth": 2.5, "tickColor": "black",
                "domainColor": "black", "domainWidth": 2.5,
                "labelFontSize": 30, "labelColor": "black", "labelFont": "Liberation Serif",
                "labelPadding": 36, "labelBaseline": "middle", "labelFlush": false, "labelOverlap": false,
                "grid": false,
                "title": "2θ/(°)", "titleFontSize": 31, "titleFontWeight": "normal", "titleColor": "black", "titleFont": "Liberation Serif",
                "titleX": 476, "titleY": 72, "titleBaseline": "middle", "titleAlign": "center"
              }},
            "y": {"field": "intensity", "type": "quantitative", "scale": {"domain": [0, 765], "nice": false, "zero": false}, "axis": null}
          }
        },
        {
          "data": {"name": "sf"},
          "mark": {"type": "line", "color": "black", "strokeWidth": 2, "strokeJoin": "round"},
          "encoding": {
            "x": {"field": "theta", "type": "quantitative"},
            "y": {"field": "intensity", "type": "quantitative"}
          }
        },
        {
          "data": {"name": "a_peaks"},
          "mark": {"type": "text", "angle": 270, "align": "left", "baseline": "middle", "fontSize": 29, "color": "black"},
          "encoding": {
            "x": {"field": "theta", "type": "quantitative"},
            "y": {"field": "intensity", "type": "quantitative"},
            "text": {"field": "label"}
          }
        },
        {
          "data": {"name": "a_names"},
          "mark": {"type": "text", "align": "left", "baseline": "middle", "fontSize": 29, "color": "black"},
          "encoding": {
            "x": {"field": "theta", "type": "quantitative"},
            "y": {"field": "intensity", "type": "quantitative"},
            "text": {"field": "label"}
          }
        }
      ]
    },
    {
      "width": 983,
      "height": 744,
      "title": {"text": ["(b) ZnS/SF纳米纤维薄膜、ZnS/C纳米纤维薄膜", "和多孔ZnO薄膜"], "orient": "bottom", "anchor": "middle", "fontSize": 35, "lineHeight": 50, "fontWeight": "normal", "font": "Liberation Serif, Noto Sans CJK SC", "color": "black", "offset": 26},
      "layer": [
        {
          "data": {"name": "zno"},
          "mark": {"type": "line", "color": "black", "strokeWidth": 2, "strokeJoin": "round"},
          "encoding": {
            "x": {"field": "theta", "type": "quantitative", "scale": {"domain": [6.966, 70], "nice": false, "zero": false},
              "axis": {
                "values": [10,15,20,25,30,35,40,45,50,55,60,65,70],
                "labelExpr": "datum.value % 10 === 0 ? datum.label : ''",
                "tickSize": {"condition": {"test": "datum.value % 10 === 0", "value": -9}, "value": -5},
                "tickWidth": 2.5, "tickColor": "black",
                "domain": false,
                "labelFontSize": 30, "labelColor": "black", "labelFont": "Liberation Serif",
                "labelPadding": 36, "labelBaseline": "middle", "labelFlush": false, "labelOverlap": false,
                "grid": false,
                "title": "2θ/(°)", "titleFontSize": 31, "titleFontWeight": "normal", "titleColor": "black", "titleFont": "Liberation Serif",
                "titleX": 515, "titleY": 73, "titleBaseline": "middle", "titleAlign": "center"
              }},
            "y": {"field": "intensity", "type": "quantitative", "scale": {"domain": [0, 744], "nice": false, "zero": false}, "axis": null}
          }
        },
        {
          "data": {"name": "zns_c"},
          "mark": {"type": "line", "color": "black", "strokeWidth": 2, "strokeJoin": "round"},
          "encoding": {
            "x": {"field": "theta", "type": "quantitative"},
            "y": {"field": "intensity", "type": "quantitative"}
          }
        },
        {
          "data": {"name": "zns_sf"},
          "mark": {"type": "line", "color": "black", "strokeWidth": 2, "strokeJoin": "round"},
          "encoding": {
            "x": {"field": "theta", "type": "quantitative"},
            "y": {"field": "intensity", "type": "quantitative"}
          }
        },
        {
          "data": {"name": "b_axisline"},
          "mark": {"type": "rule", "color": "black", "strokeWidth": 2.5},
          "encoding": {
            "x": {"field": "theta", "type": "quantitative"},
            "x2": {"field": "theta_end"},
            "y": {"datum": 0, "type": "quantitative"}
          }
        },
        {
          "data": {"name": "b_peaks"},
          "mark": {"type": "text", "angle": 270, "align": "left", "baseline": "middle", "fontSize": 29, "color": "black"},
          "encoding": {
            "x": {"field": "theta", "type": "quantitative"},
            "y": {"field": "intensity", "type": "quantitative"},
            "text": {"field": "label"}
          }
        },
        {
          "data": {"name": "b_names"},
          "mark": {"type": "text", "align": "left", "baseline": "middle", "fontSize": 29, "color": "black"},
          "encoding": {
            "x": {"field": "theta", "type": "quantitative"},
            "y": {"field": "intensity", "type": "quantitative"},
            "text": {"field": "label"}
          }
        },
        {
          "data": {"name": "b_zns"},
          "mark": {"type": "text", "align": "center", "baseline": "middle", "fontSize": 29, "color": "black"},
          "encoding": {
            "x": {"field": "theta", "type": "quantitative"},
            "y": {"field": "intensity", "type": "quantitative"},
            "text": {"field": "label"}
          }
        }
      ]
    }
  ]
}
